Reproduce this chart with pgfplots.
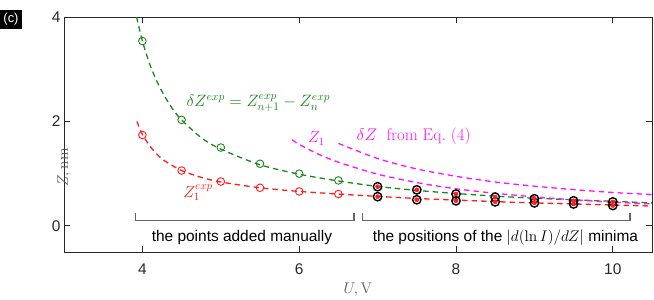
\RequirePackage{fix-cm}
\documentclass[border=0pt]{standalone}
\usepackage[no-math]{fontspec}
\setmainfont{Liberation Sans}
\usepackage{pgfplots}
\pgfplotsset{compat=1.18}
\definecolor{mgreen}{RGB}{25,135,25}
\definecolor{mred}{RGB}{255,30,30}
\definecolor{mmag}{RGB}{255,20,255}
\definecolor{axgray}{RGB}{40,40,40}
\definecolor{brgray}{RGB}{100,100,100}
\begin{document}
\begin{tikzpicture}[font=\fontsize{15.5}{18}\selectfont]
\begin{axis}[
  at={(0,0)}, anchor=south west,
  scale only axis, width=588bp, height=235bp,
  xmin=3, xmax=10.5, ymin=-0.5, ymax=4,
  xtick={4,6,8,10}, ytick={0,2,4},
  tick align=inside, major tick length=6bp,
  axis line style={axgray, line width=0.8bp},
  every tick/.style={axgray, line width=0.8bp},
  /pgf/number format/assume math mode=true,
  ticklabel style={font=\fontsize{15.5}{18}\selectfont, text=axgray},
  xticklabel style={yshift=-8bp},
  clip=false,
  xlabel={$U,\mathrm{V}$}, ylabel={$Z,\mathrm{nm}$},
  label style={font=\fontsize{15.5}{18}\selectfont, text=black!65},
  xlabel style={at={(axis description cs:0.5,0)}, anchor=center, yshift=-38bp},
  ylabel style={at={(axis description cs:0,0.5)}, anchor=center, xshift=-33bp},
  dashline/.style={line width=1.3bp, dash pattern=on 5.5bp off 4bp, smooth},
]
% fitted dashed curves
\addplot[mgreen, dashline] coordinates {
(3.926,4.0) (4.0,3.54) (4.1,3.07) (4.2,2.72) (4.3,2.44) (4.4,2.21) (4.5,2.03)
(4.75,1.69) (5.0,1.47) (5.5,1.17) (6.0,0.99) (6.5,0.86) (7.0,0.755) (7.5,0.68)
(8.0,0.62) (8.5,0.57) (9.0,0.53) (9.5,0.50) (10.0,0.47) (10.5,0.44)};
\addplot[mred, dashline] coordinates {
(3.93,2.0) (4.0,1.75) (4.1,1.52) (4.2,1.35) (4.3,1.23) (4.5,1.06) (4.75,0.93)
(5.0,0.84) (5.5,0.73) (6.0,0.66) (6.5,0.61) (7.0,0.565) (7.5,0.525) (8.0,0.495)
(8.5,0.465) (9.0,0.44) (9.5,0.42) (10.0,0.40) (10.5,0.38)};
\addplot[mmag, dashline] coordinates {
(5.91,1.65) (6.0,1.56) (6.25,1.37) (6.5,1.22) (7.0,0.99) (7.5,0.83) (8.0,0.71)
(8.5,0.625) (9.0,0.555) (9.5,0.50) (10.0,0.455) (10.5,0.42)};
\addplot[mmag, dashline] coordinates {
(6.5,1.58) (7.0,1.29) (7.5,1.09) (8.0,0.95) (8.5,0.84) (9.0,0.76) (9.5,0.695)
(10.0,0.64) (10.5,0.60)};
% manually added points
\addplot[only marks, mark=o, mgreen, mark size=3.8bp, mark options={line width=0.9bp, fill=white}] coordinates {
(4.0,3.54) (4.5,2.03) (5.0,1.50) (5.5,1.19) (6.0,1.00) (6.5,0.87)};
\addplot[only marks, mark=o, mred, mark size=3.8bp, mark options={line width=0.9bp, fill=white}] coordinates {
(4.0,1.74) (4.5,1.06) (5.0,0.85) (5.5,0.73) (6.0,0.66) (6.5,0.61)};
% minima positions
\addplot[only marks, mark=o, black, mark size=4.2bp, mark options={line width=1.4bp}] coordinates {
(7.0,0.75) (7.5,0.69) (8.0,0.61) (8.5,0.55) (9.0,0.52) (9.5,0.48) (10.0,0.46)
(7.0,0.56) (7.5,0.50) (8.0,0.48) (8.5,0.46) (9.0,0.44) (9.5,0.42) (10.0,0.39)};
\addplot[only marks, mark=*, mred, mark size=2.1bp] coordinates {
(7.0,0.75) (7.5,0.69) (8.0,0.61) (8.5,0.55) (9.0,0.52) (9.5,0.48) (10.0,0.46)
(7.0,0.56) (7.5,0.50) (8.0,0.48) (8.5,0.46) (9.0,0.44) (9.5,0.42) (10.0,0.39)};
% brackets
\addplot[brgray, line width=1.2bp] coordinates {(3.91,0.25) (3.91,0.1) (6.70,0.1) (6.70,0.25)};
\addplot[brgray, line width=1.2bp] coordinates {(6.81,0.25) (6.81,0.1) (10.22,0.1) (10.22,0.25)};
% annotations
\node[mgreen, inner sep=0.5bp, font=\fontsize{16.5}{19}\selectfont] at (axis cs:5.48,2.36) {$\delta Z^{exp}=Z^{exp}_{n+1}-Z^{exp}_{n}$};
\node[mred, inner sep=0.5bp, font=\fontsize{16}{19}\selectfont] at (axis cs:4.71,0.63) {$Z^{exp}_{1}$};
\node[mmag, inner sep=0.5bp, font=\fontsize{16}{19}\selectfont] at (axis cs:6.22,1.67) {$Z_{1}$};
\node[mmag, inner sep=0.5bp, font=\fontsize{17}{20}\selectfont] at (axis cs:7.46,1.72) {$\delta Z\ \ \mathrm{from\ Eq.\ (4)}$};
\node[black] at (axis cs:5.27,-0.23) {the points added manually};
\node[black] at (axis cs:8.63,-0.23) {the positions of the $|d(\ln I)/dZ|$ minima};
\end{axis}
\node[fill=black, text=white, inner sep=0pt, minimum width=22bp, minimum height=19bp, font=\fontsize{13}{15}\selectfont] at (-53bp,232.5bp) {(c)};
\pgfresetboundingbox
\path (-64bp,-48bp) rectangle (590bp,252bp);
\end{tikzpicture}
\end{document}
